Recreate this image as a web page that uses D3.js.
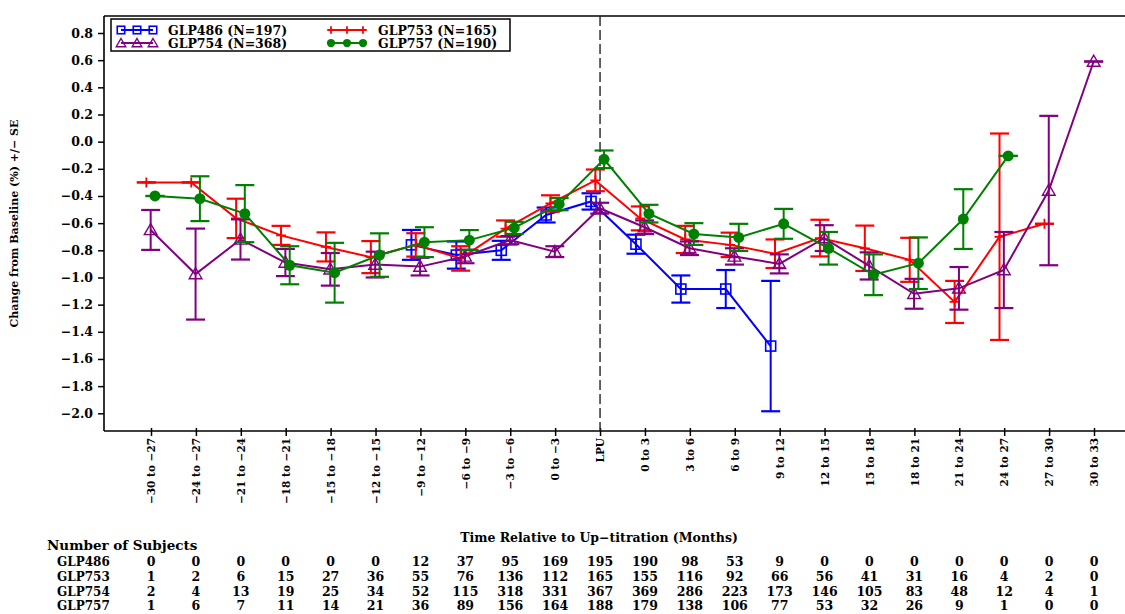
<!DOCTYPE html>
<html>
<head>
<meta charset="utf-8">
<script src="https://cdn.jsdelivr.net/npm/d3@7"></script>
<style>
  html, body { margin: 0; padding: 0; background: #fff; }
  svg { display: block; }
  text { font-family: "DejaVu Serif", serif; font-weight: bold; fill: #000; }
</style>
</head>
<body>
<svg id="chart" width="1125" height="614"></svg>
<script>
// ---- data -------------------------------------------------------------
const categories = [
  "\u221230 to \u221227", "\u221224 to \u221227", "\u221221 to \u221224", "\u221218 to \u221221",
  "\u221215 to \u221218", "\u221212 to \u221215", "\u22129 to \u221212", "\u22126 to \u22129",
  "\u22123 to \u22126", "0 to \u22123", "LPU", "0 to 3", "3 to 6", "6 to 9", "9 to 12",
  "12 to 15", "15 to 18", "18 to 21", "21 to 24", "24 to 27", "27 to 30", "30 to 33"
];

const groups = ["GLP486", "GLP753", "GLP754", "GLP757"];
const legendLabels = ["GLP486 (N=197)", "GLP753 (N=165)", "GLP754 (N=368)", "GLP757 (N=190)"];

// mean change from baseline (%) per interval; null = no subjects
const mean486 = [null, null, null, null, null, null, -0.76, -0.835, -0.80, -0.54, -0.44,
  -0.755, -1.085, -1.085, -1.505, null, null, null, null, null, null, null];
const se486 = [null, null, null, null, null, null, 0.11, 0.10, 0.07, 0.055, 0.06,
  0.07, 0.10, 0.14, 0.48, null, null, null, null, null, null, null];

const mean753 = [-0.30, -0.30, -0.565, -0.69, -0.775, -0.85, -0.76, -0.86, -0.64, -0.455, -0.285,
  -0.565, -0.72, -0.76, -0.825, -0.71, -0.785, -0.87, -1.18, -0.70, -0.605, null];
const se753 = [0, 0, 0.145, 0.07, 0.107, 0.118, 0.086, 0.09, 0.06, 0.06, 0.08,
  0.088, 0.10, 0.09, 0.105, 0.135, 0.167, 0.162, 0.155, 0.76, 0, null];

const mean754 = [-0.65, -0.975, -0.72, -0.89, -0.94, -0.905, -0.92, -0.845, -0.725, -0.81, -0.49,
  -0.63, -0.785, -0.845, -0.90, -0.71, -0.915, -1.12, -1.08, -0.945, -0.36, 0.59];
const se754 = [0.147, 0.335, 0.148, 0.10, 0.12, 0.095, 0.065, 0.05, 0.03, 0.04, 0.04,
  0.05, 0.05, 0.06, 0.07, 0.095, 0.10, 0.11, 0.157, 0.28, 0.55, 0];

const mean757 = [-0.40, -0.42, -0.53, -0.91, -0.965, -0.835, -0.74, -0.725, -0.635, -0.46, -0.13,
  -0.53, -0.68, -0.705, -0.605, -0.785, -0.98, -0.895, -0.57, -0.105, null, null];
const se757 = [0, 0.165, 0.21, 0.14, 0.22, 0.16, 0.11, 0.074, 0.045, 0.045, 0.065,
  0.065, 0.08, 0.10, 0.11, 0.12, 0.15, 0.19, 0.22, 0, null, null];

// number of subjects per interval
const n486 = [0, 0, 0, 0, 0, 0, 12, 37, 95, 169, 195, 190, 98, 53, 9, 0, 0, 0, 0, 0, 0, 0];
const n753 = [1, 2, 6, 15, 27, 36, 55, 76, 136, 112, 165, 155, 116, 92, 66, 56, 41, 31, 16, 4, 2, 0];
const n754 = [2, 4, 13, 19, 25, 34, 52, 115, 318, 331, 367, 369, 286, 223, 173, 146, 105, 83, 48, 12, 4, 1];
const n757 = [1, 6, 7, 11, 14, 21, 36, 89, 156, 164, 188, 179, 138, 106, 77, 53, 32, 26, 9, 1, 0, 0];

const yTicks = [0.8, 0.6, 0.4, 0.2, 0.0, -0.2, -0.4, -0.6, -0.8, -1.0, -1.2, -1.4, -1.6, -1.8, -2.0];

const colors = { GLP486: "#0000ff", GLP753: "#ff0000", GLP754: "#800080", GLP757: "#008000" };
const meanBy = { GLP486: mean486, GLP753: mean753, GLP754: mean754, GLP757: mean757 };
const seBy = { GLP486: se486, GLP753: se753, GLP754: se754, GLP757: se757 };
const nBy = { GLP486: n486, GLP753: n753, GLP754: n754, GLP757: n757 };

// ---- layout -------------------------------------------------------------
const svg = d3.select("#chart");
const frame = { left: 104, right: 1125, top: 16, bottom: 431 };

const x = d3.scalePoint().domain(categories).range([151, 1094]);
const dx = d3.scalePoint().domain(groups).range([-9, 4]);   // small cluster offset per group
const y = d3.scaleLinear().domain([-2.0, 0.8]).range([413.3, 33.0]);

// ---- axes ---------------------------------------------------------------
const yAxis = svg.append("g")
  .attr("transform", `translate(${frame.left},0)`)
  .call(d3.axisLeft(y).tickValues(yTicks).tickSize(6).tickPadding(5)
    .tickFormat(d3.format(".1f")));
yAxis.select(".domain").remove();
yAxis.selectAll(".tick line").attr("stroke", "#000").attr("stroke-width", 1.5);
yAxis.selectAll(".tick text").style("font-size", "12.5px").style("font-family", "DejaVu Serif")
  .style("font-weight", "bold");

const xAxis = svg.append("g")
  .attr("transform", `translate(0,${frame.bottom})`)
  .call(d3.axisBottom(x).tickSize(5).tickPadding(6));
xAxis.select(".domain").remove();
xAxis.selectAll(".tick line").attr("stroke", "#000").attr("stroke-width", 1.5).attr("y1", -3);
xAxis.selectAll(".tick text")
  .style("font-size", "10.5px").style("font-family", "DejaVu Serif").style("font-weight", "bold")
  .attr("transform", "rotate(-90)")
  .attr("x", -7).attr("y", 0).attr("dy", "0.35em")
  .attr("text-anchor", "end");

// frame lines: left axis, bottom axis, top border
svg.append("line").attr("x1", frame.left).attr("x2", frame.left)
  .attr("y1", frame.top).attr("y2", frame.bottom)
  .attr("stroke", "#000").attr("stroke-width", 1.6);
svg.append("line").attr("x1", frame.left).attr("x2", frame.right)
  .attr("y1", frame.bottom).attr("y2", frame.bottom)
  .attr("stroke", "#000").attr("stroke-width", 1.6);
svg.append("line").attr("x1", frame.left).attr("x2", frame.right)
  .attr("y1", frame.top).attr("y2", frame.top)
  .attr("stroke", "#000").attr("stroke-width", 1.6);

// reference line at up-titration
svg.append("line")
  .attr("x1", x("LPU")).attr("x2", x("LPU"))
  .attr("y1", frame.top).attr("y2", frame.bottom)
  .attr("stroke", "#222").attr("stroke-width", 1.4)
  .attr("stroke-dasharray", "10,4");

// axis titles
svg.append("text")
  .attr("transform", `translate(18,${(frame.top + frame.bottom) / 2}) rotate(-90)`)
  .attr("text-anchor", "middle")
  .style("font-size", "11px")
  .text("Change from Baseline (%) +/\u2212 SE");

svg.append("text")
  .attr("x", 599).attr("y", 542)
  .attr("text-anchor", "middle")
  .style("font-size", "12.5px")
  .text("Time Relative to Up\u2212titration (Months)");

// ---- markers ------------------------------------------------------------
function drawMarker(sel, g, cx, cy, k = 1) {
  const c = colors[g];
  if (g === "GLP486") {
    const h = 5 * k;
    sel.append("rect").attr("x", cx - h).attr("y", cy - h).attr("width", 2 * h).attr("height", 2 * h)
      .attr("fill", "none").attr("stroke", c).attr("stroke-width", 1.6);
  } else if (g === "GLP753") {
    const h = 5 * k;
    sel.append("path").attr("d", `M${cx - h},${cy}H${cx + h}M${cx},${cy - h}V${cy + h}`)
      .attr("stroke", c).attr("stroke-width", 1.8).attr("fill", "none");
  } else if (g === "GLP754") {
    sel.append("path")
      .attr("d", d3.symbol().type(d3.symbolTriangle).size(70 * k * k)())
      .attr("transform", `translate(${cx},${cy + 1})`)
      .attr("fill", "none").attr("stroke", c).attr("stroke-width", 1.4);
  } else {
    sel.append("circle").attr("cx", cx).attr("cy", cy).attr("r", 5.5 * k).attr("fill", c);
  }
}

// ---- series -------------------------------------------------------------
const capHalf = 9.5;
groups.forEach(g => {
  const pts = categories.map((c, i) => ({ c, m: meanBy[g][i], se: seBy[g][i] }))
    .filter(d => d.m !== null);
  const layer = svg.append("g");
  const c = colors[g];
  const px = d => x(d.c) + dx(g);

  // error bars (mean +/- SE)
  pts.forEach(d => {
    const yt = y(d.m + d.se), yb = y(d.m - d.se), xx = px(d);
    layer.append("line").attr("x1", xx).attr("x2", xx).attr("y1", yt).attr("y2", yb)
      .attr("stroke", c).attr("stroke-width", 2);
    [yt, yb].forEach(yy => layer.append("line")
      .attr("x1", xx - capHalf).attr("x2", xx + capHalf).attr("y1", yy).attr("y2", yy)
      .attr("stroke", c).attr("stroke-width", 2.2));
  });

  // connecting line
  layer.append("path").datum(pts)
    .attr("d", d3.line().x(px).y(d => y(d.m)))
    .attr("fill", "none").attr("stroke", c).attr("stroke-width", 2);

  pts.forEach(d => drawMarker(layer, g, px(d), y(d.m)));
});

// ---- legend -------------------------------------------------------------
const lg = svg.append("g");
lg.append("rect").attr("x", 111).attr("y", 19).attr("width", 399).attr("height", 32)
  .attr("fill", "#fff").attr("stroke", "#000").attr("stroke-width", 1.5);
const legendPos = [
  { g: "GLP486", x0: 121, y0: 30 }, { g: "GLP753", x0: 331, y0: 30 },
  { g: "GLP754", x0: 121, y0: 43 }, { g: "GLP757", x0: 331, y0: 43 }
];
legendPos.forEach(p => {
  const c = colors[p.g];
  lg.append("line").attr("x1", p.x0).attr("x2", p.x0 + 32).attr("y1", p.y0).attr("y2", p.y0)
    .attr("stroke", c).attr("stroke-width", 2);
  [0, 16, 32].forEach(o => drawMarker(lg, p.g, p.x0 + o, p.y0, 0.75));
  lg.append("text").attr("x", p.x0 + 47).attr("y", p.y0).attr("dy", "0.36em")
    .style("font-size", "12.5px")
    .text(legendLabels[groups.indexOf(p.g)]);
});

// ---- subject counts table -------------------------------------------------
svg.append("text").attr("x", 47).attr("y", 550).style("font-size", "13.5px")
  .text("Number of Subjects");
const rowY = [566, 581, 596, 610];
groups.forEach((g, r) => {
  svg.append("text").attr("x", 57).attr("y", rowY[r]).style("font-size", "12px").text(g);
  svg.append("g").selectAll("text").data(nBy[g]).join("text")
    .attr("x", (d, i) => x(categories[i]))
    .attr("y", rowY[r])
    .attr("text-anchor", "middle")
    .style("font-size", "12.5px")
    .text(d => d);
});
</script>
</body>
</html>
